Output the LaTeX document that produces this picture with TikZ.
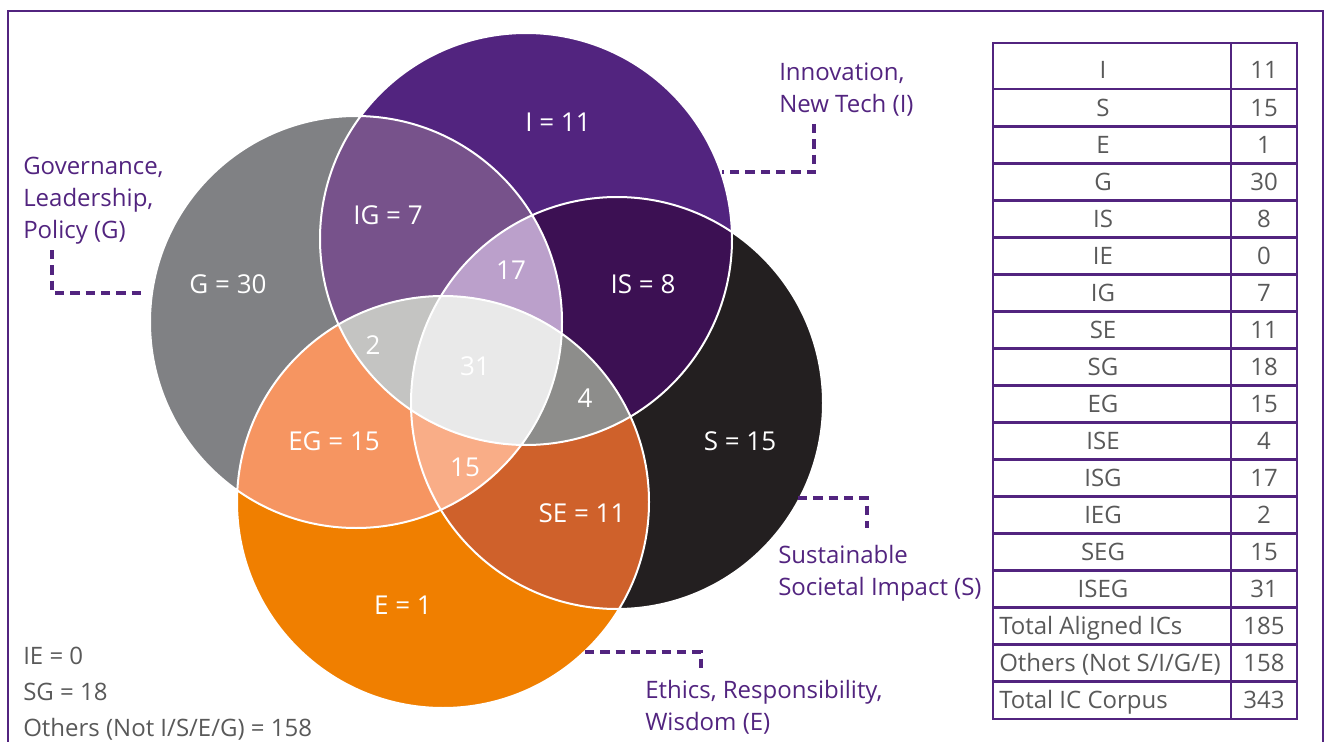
\documentclass[tikz,border=0pt]{standalone}
\usepackage{fontspec}
\setmainfont{Open Sans}
\definecolor{purp}{RGB}{82,36,127}
\definecolor{txtgray}{RGB}{89,89,89}
\definecolor{cI}{RGB}{82,36,127}
\definecolor{cG}{RGB}{128,129,132}
\definecolor{cS}{RGB}{35,31,32}
\definecolor{cE}{RGB}{240,127,0}
\definecolor{cIG}{RGB}{119,82,139}
\definecolor{cIS}{RGB}{60,16,83}
\definecolor{cEG}{RGB}{246,149,97}
\definecolor{cSE}{RGB}{207,97,43}
\definecolor{cISG}{RGB}{187,160,203}
\definecolor{cIEG}{RGB}{196,196,194}
\definecolor{cISE}{RGB}{141,141,139}
\definecolor{cSEG}{RGB}{249,173,135}
\definecolor{cISEG}{RGB}{233,233,233}
\newcommand{\ringI}{(526,239) circle (206)}
\newcommand{\ringG}{(356,322) circle (206)}
\newcommand{\ringS}{(617,403) circle (206)}
\newcommand{\ringE}{(443,502) circle (206)}

\begin{document}
\begin{tikzpicture}[x=0.75pt,y=-0.75pt,
    num/.style={text=white,inner sep=0pt,font=\fontsize{19.5}{24}\selectfont},
    setlab/.style={text=purp,align=left,anchor=north west,inner sep=0pt,font=\fontsize{18}{24}\selectfont},
    lead/.style={purp,line width=3.3pt,dash pattern=on 7pt off 4.5pt},
    tabline/.style={purp,line width=2.2pt},
    cell/.style={text=txtgray,inner sep=0pt,anchor=base,font=\fontsize{18}{24}\selectfont}]
            \useasboundingbox (0,0) rectangle (1325,742);
            \draw[purp,line width=2pt] (8,742) -- (8,11) -- (1323,11) -- (1323,742); %ramik

            %kruhy
            \fill[cG] \ringG;
            \fill[cI] \ringI;
            \fill[cS] \ringS;
            \fill[cE] \ringE;

            %dvojice
            \begin{scope} \clip \ringI; \fill[cIG] \ringG; \end{scope}
            \begin{scope} \clip \ringI; \fill[cIS] \ringS; \end{scope}
            \begin{scope} \clip \ringE; \fill[cEG] \ringG; \end{scope}
            \begin{scope} \clip \ringE; \fill[cSE] \ringS; \end{scope}

            %trojice
            \begin{scope} \clip \ringI; \clip \ringS; \fill[cISG] \ringG; \end{scope}
            \begin{scope} \clip \ringI; \clip \ringE; \fill[cIEG] \ringG; \end{scope}
            \begin{scope} \clip \ringI; \clip \ringS; \fill[cISE] \ringE; \end{scope}
            \begin{scope} \clip \ringS; \clip \ringE; \fill[cSEG] \ringG; \end{scope}

            %vsetky styri
            \begin{scope} \clip \ringI; \clip \ringS; \clip \ringE; \fill[cISEG] \ringG; \end{scope}

            \draw[white,line width=1.5pt] \ringG \ringI \ringS \ringE; %okraje

            %cisla v oblastiach
            \node[num] (nI) at (558,122) {I = 11};
            \node[num] (nIG) at (388,215) {IG = 7};
            \node[num] (nG) at (228,284) {G = 30};
            \node[num] (nISG) at (511,270) {17};
            \node[num] (nIS) at (643,284) {IS = 8};
            \node[num] (nIEG) at (373,345) {2};
            \node[num] (nISEG) at (475,366) {31};
            \node[num] (nISE) at (585,398) {4};
            \node[num] (nEG) at (334,441) {EG = 15};
            \node[num] (nSEG) at (465,467) {15};
            \node[num] (nS) at (740,441) {S = 15};
            \node[num] (nSE) at (582,513) {SE = 11};
            \node[num] (nE) at (403,605) {E = 1};

            %popisy mnozin
            \node[setlab] (labG) at (23,157) {Governance,\\Leadership,\\Policy (G)};
            \node[setlab] (labI) at (779,63) {Innovation,\\New Tech (I)};
            \node[setlab] (labS) at (778,545) {Sustainable\\Societal Impact (S)};
            \node[setlab] (labE) at (645,680) {Ethics, Responsibility,\\Wisdom (E)};

            %ciarkovane spojnice
            \coordinate (gA) at (52,250); \coordinate (gB) at (145,293);
            \coordinate (iA) at (814,124); \coordinate (iB) at (722,172);
            \coordinate (sA) at (798,498); \coordinate (sB) at (867,528);
            \coordinate (eA) at (585,652); \coordinate (eB) at (701,670);
            \draw[lead] (gA) |- (gB);
            \draw[lead] (iA) |- (iB);
            \draw[lead] (sA) -| (sB);
            \draw[lead] (eA) -| (eB);

            \node[text=txtgray,align=left,anchor=north west,inner sep=0pt,font=\fontsize{18}{27}\selectfont] (extra) at (23,647) {IE = 0\\SG = 18\\Others (Not I/S/E/G) = 158}; %chybajuce

            %tabulka
            \draw[tabline] (993,43) rectangle (1297,719);
            \draw[tabline] (1231,43) -- (1231,719);
            \foreach \j in {0,...,16}
                \draw[tabline] (993,{89+37.06*\j}) -- (1297,{89+37.06*\j});
            \foreach \lab/\val [count=\k] in {I/11,S/15,E/1,G/30,IS/8,IE/0,IG/7,SE/11,SG/18,EG/15,ISE/4,ISG/17,IEG/2,SEG/15,ISEG/31}{
                \node[cell] (row\k) at (1103,{89+37.06*(\k-1.5)+8.5}) {\lab};
                \node[cell] (val\k) at (1264,{89+37.06*(\k-1.5)+8.5}) {\val};
            }
            \foreach \lab/\val [count=\k from 16] in {Total Aligned ICs/185,{Others (Not S/I/G/E)}/158,Total IC Corpus/343}{
                \node[cell,anchor=base west] (row\k) at (999,{89+37.06*(\k-1.5)+8.5}) {\lab};
                \node[cell] (val\k) at (1264,{89+37.06*(\k-1.5)+8.5}) {\val};
            }
        \end{tikzpicture}
\end{document}
